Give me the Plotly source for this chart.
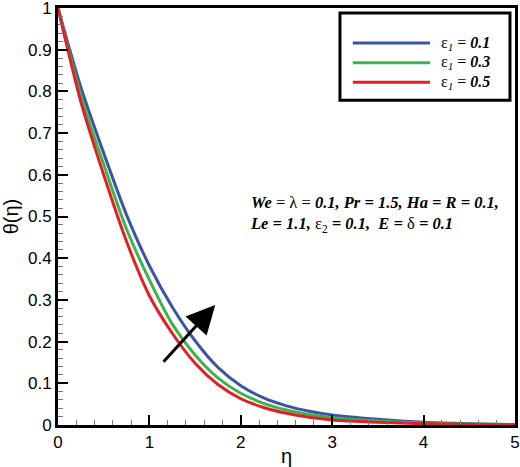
import plotly.graph_objects as go

# eta grid and theta(eta)
eta = [0, 0.25, 0.5, 0.75, 1.0, 1.25, 1.5, 1.75, 2.0, 2.25, 2.5, 2.75, 3.0, 3.5, 4.0, 4.5, 5.0]
theta_eps1_01 = [1.0, 0.81, 0.652, 0.504, 0.382, 0.283, 0.202, 0.138, 0.094, 0.065, 0.046, 0.033, 0.024, 0.0135, 0.0065, 0.003, 0.001]
theta_eps1_03 = [1.0, 0.79, 0.625, 0.47, 0.348, 0.242, 0.168, 0.113, 0.076, 0.052, 0.036, 0.025, 0.0175, 0.0095, 0.0045, 0.002, 0.0008]
theta_eps1_05 = [1.0, 0.775, 0.60, 0.44, 0.31, 0.22, 0.148, 0.097, 0.063, 0.042, 0.028, 0.0185, 0.012, 0.0065, 0.0032, 0.0014, 0.0005]

eps1_values = ["0.1", "0.3", "0.5"]
colors = ["#3b55a5", "#3cb44a", "#e21f26"]
series = [theta_eps1_01, theta_eps1_03, theta_eps1_05]

y_ticks = [0, 0.1, 0.2, 0.3, 0.4, 0.5, 0.6, 0.7, 0.8, 0.9, 1.0]
y_labels = ["0", "0.1", "0.2", "0.3", "0.4", "0.5", "0.6", "0.7", "0.8", "0.9", "1"]
x_ticks = [0, 1, 2, 3, 4, 5]

# arrow (tail -> head) in data units
arrow_tail = (1.14, 0.148)
arrow_head = (1.72, 0.288)

fig = go.Figure()
for vals, col, e in zip(series, colors, eps1_values):
    fig.add_trace(go.Scatter(x=eta, y=vals, mode='lines', line=dict(color=col, width=3, shape='spline', smoothing=0.8),
                             name=e, showlegend=False))

# hand-made legend box (long line samples like the original)
shapes = [dict(type='rect', xref='paper', yref='paper', x0=0.617, x1=0.989, y0=0.779, y1=0.988,
               line=dict(color='black', width=3), fillcolor='white', layer='above')]
annotations = []
for i, (col, e) in enumerate(zip(colors, eps1_values)):
    yy = 0.916 - i * 0.047
    shapes.append(dict(type='line', xref='paper', yref='paper', x0=0.645, x1=0.814, y0=yy, y1=yy,
                       line=dict(color=col, width=3), layer='above'))
    annotations.append(dict(xref='paper', yref='paper', x=0.834, y=yy, xanchor='left', yanchor='middle',
                            showarrow=False, text=f"ε<sub><i>1</i></sub> = <b><i>{e}</i></b>",
                            font=dict(family='Liberation Serif', size=16, color='black')))

annotations.append(dict(xref='x', yref='y', x=2.08, y=0.505, xanchor='left', yanchor='middle', align='left',
                        showarrow=False,
                        text="<b><i>We</i></b> = λ = <b><i>0.1, Pr = 1.5, Ha = R = 0.1,</i></b><br>"
                             "<b><i>Le = 1.1, </i></b>ε<sub>2</sub><b><i> = 0.1,  E = </i></b>δ<b><i> = 0.1</i></b>",
                        font=dict(family='Liberation Serif', size=16.5, color='black')))

annotations.append(dict(xref='x', yref='y', axref='x', ayref='y', x=arrow_head[0], y=arrow_head[1],
                        ax=arrow_tail[0], ay=arrow_tail[1], showarrow=True, arrowhead=2,
                        arrowsize=1.9, arrowwidth=3, arrowcolor='black', text=''))

fig.update_layout(
    width=520, height=467,
    margin=dict(l=58, r=5, t=8, b=42),
    paper_bgcolor='white', plot_bgcolor='white',
    font=dict(family='Liberation Sans', size=17, color='black'),
    shapes=shapes, annotations=annotations,
)
fig.update_xaxes(range=[0, 5], tickmode='array', tickvals=x_ticks, showgrid=False, zeroline=False,
                 showline=True, linecolor='black', linewidth=3, mirror=True, automargin=False,
                 ticks='inside', ticklen=10, tickwidth=2, tickcolor='black', ticklabeloverflow='allow',
                 minor=dict(ticks='inside', dtick=0.2, ticklen=5, tickwidth=1, tickcolor='#777'),
                 title=dict(text='η', standoff=0))
fig.update_yaxes(range=[0, 1], tickmode='array', tickvals=y_ticks, ticktext=y_labels,
                 showgrid=False, zeroline=False, automargin=False,
                 showline=True, linecolor='black', linewidth=3, mirror=True,
                 ticks='inside', ticklen=10, tickwidth=2, tickcolor='black', ticklabeloverflow='allow',
                 minor=dict(ticks='inside', dtick=0.02, ticklen=5, tickwidth=1, tickcolor='#777'),
                 title=dict(text='θ(η)', standoff=7))

# drop the default body margin so the figure sits at the window's corner
fig.write_html("out.html", config={'displayModeBar': False},
               post_script="document.body.style.margin='0';")
